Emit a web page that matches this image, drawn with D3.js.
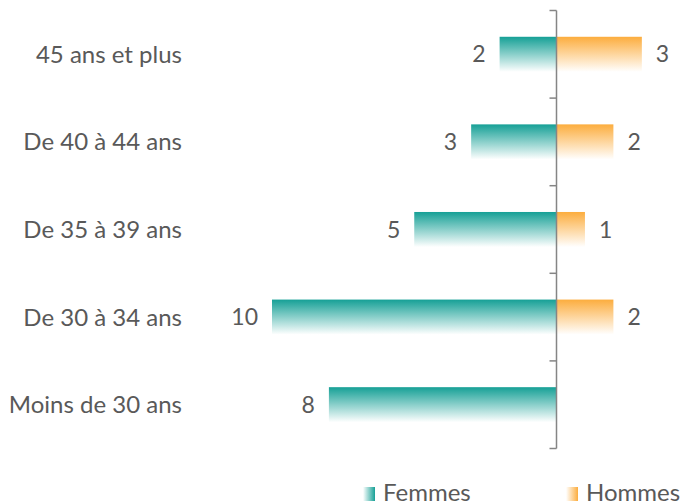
<!DOCTYPE html>
<html><head><meta charset="utf-8">
<script src="https://cdn.jsdelivr.net/npm/d3@7"></script>
<style>body{margin:0;background:#fff}svg{display:block}</style>
</head><body>
<svg id="c" width="687" height="501"></svg>
<script>
const categories = ["45 ans et plus","De 40 à 44 ans","De 35 à 39 ans","De 30 à 34 ans","Moins de 30 ans"];
const femmes = [2,3,5,10,8];
const hommes = [3,2,1,2,0];
const seriesNames = ["Femmes","Hommes"];

const svg = d3.select("#c");
const font = "Lato, 'Open Sans', sans-serif";
const cx = 556.5;
const x = d3.scaleLinear().domain([0,10]).range([0,284.5]);
const y = d3.scaleBand().domain(categories).range([10.5,448.5]).paddingInner(0.6).paddingOuter(0.3);

const defs = svg.append("defs");
function vgrad(id,c){
  const g = defs.append("linearGradient").attr("id",id).attr("x1",0).attr("y1",0).attr("x2",0).attr("y2",1);
  g.append("stop").attr("offset","0%").attr("stop-color",c);
  g.append("stop").attr("offset","100%").attr("stop-color","#ffffff");
}
function hgrad(id,c){
  const g = defs.append("linearGradient").attr("id",id).attr("x1",0).attr("y1",0).attr("x2",1).attr("y2",0);
  g.append("stop").attr("offset","0%").attr("stop-color","#ffffff");
  g.append("stop").attr("offset","100%").attr("stop-color",c);
}
const teal = "#16a096", orange = "#fcad3e";
vgrad("gf",teal); vgrad("gh",orange); hgrad("lf",teal); hgrad("lh",orange);

// bars
svg.selectAll(".bf").data(categories).join("rect")
  .attr("x",(d,i)=>cx - x(femmes[i])).attr("y",d=>y(d))
  .attr("width",(d,i)=>x(femmes[i])).attr("height",y.bandwidth())
  .attr("fill","url(#gf)");
svg.selectAll(".bh").data(categories.filter((d,i)=>hommes[i]>0)).join("rect")
  .attr("x",cx).attr("y",d=>y(d))
  .attr("width",d=>x(hommes[categories.indexOf(d)])).attr("height",y.bandwidth())
  .attr("fill","url(#gh)");

// axis
const ticks = d3.range(categories.length+1).map(i=>10.5 + i*(438/categories.length));
svg.append("line").attr("x1",cx).attr("x2",cx).attr("y1",ticks[0]).attr("y2",ticks[ticks.length-1])
  .attr("stroke","#858585").attr("stroke-width",1.5);
svg.selectAll(".tk").data(ticks).join("line")
  .attr("x1",cx-7).attr("x2",cx).attr("y1",d=>d).attr("y2",d=>d)
  .attr("stroke","#858585").attr("stroke-width",1.5);

// category labels
svg.selectAll(".cl").data(categories).join("text")
  .attr("x",182).attr("y",d=>y(d)+y.bandwidth()/2).attr("dy","0.35em")
  .attr("text-anchor","end").attr("font-family",font).attr("font-size",24).attr("fill","#595959")
  .text(d=>d);

// value labels
svg.selectAll(".vf").data(categories).join("text")
  .attr("x",(d,i)=>cx - x(femmes[i]) - 14).attr("y",d=>y(d)+y.bandwidth()/2).attr("dy","0.35em")
  .attr("text-anchor","end").attr("font-family",font).attr("font-size",23).attr("fill","#595959")
  .text((d,i)=>femmes[i]);
svg.selectAll(".vh").data(categories.filter((d,i)=>hommes[i]>0)).join("text")
  .attr("x",d=>cx + x(hommes[categories.indexOf(d)]) + 14).attr("y",d=>y(d)+y.bandwidth()/2).attr("dy","0.35em")
  .attr("text-anchor","start").attr("font-family",font).attr("font-size",23).attr("fill","#595959")
  .text(d=>hommes[categories.indexOf(d)]);

// legend
const leg = [{n:seriesNames[0],g:"url(#lf)",x:363},{n:seriesNames[1],g:"url(#lh)",x:566}];
const lg = svg.selectAll(".lg").data(leg).join("g");
lg.append("rect").attr("x",d=>d.x).attr("y",487).attr("width",12).attr("height",14).attr("fill",d=>d.g);
lg.append("text").attr("x",d=>d.x+20).attr("y",501).attr("font-family",font).attr("font-size",24).attr("fill","#595959").text(d=>d.n);
</script>
</body></html>
